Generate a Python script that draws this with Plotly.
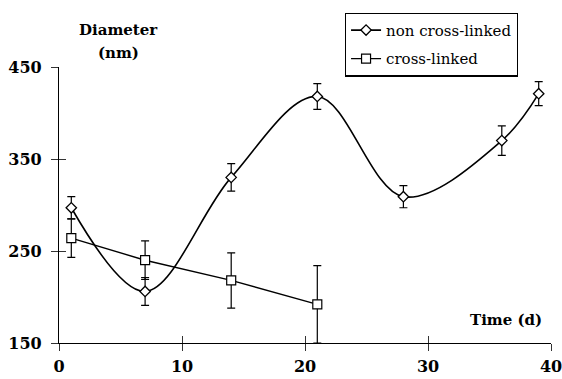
import plotly.graph_objects as go

# Data
time_non = [1, 7, 14, 21, 28, 36, 39]
diam_non = [297, 206, 330, 418, 309, 370, 421]
err_non = [12, 15, 15, 14, 12, 16, 13]

time_cross = [1, 7, 14, 21]
diam_cross = [264, 240, 218, 192]
err_cross = [21, 21, 30, 42]

x_ticks = [0, 10, 20, 30, 40]
y_ticks = [150, 250, 350, 450]

SERIF = "DejaVu Serif"

fig = go.Figure()
fig.add_trace(go.Scatter(
    x=time_non, y=diam_non, name="non cross-linked", mode="lines+markers",
    legendgroup="a",
    line=dict(color="black", width=1.6, shape="spline", smoothing=1.0),
    marker=dict(symbol="diamond", size=8, color="white", line=dict(color="black", width=1.3)),
    error_y=dict(type="data", array=err_non, visible=True, color="black", thickness=1.2, width=4),
))
fig.add_trace(go.Scatter(
    x=time_cross, y=diam_cross, name="cross-linked", mode="lines+markers",
    legendgroup="b",
    line=dict(color="black", width=1.4),
    marker=dict(symbol="square", size=9, color="white", line=dict(color="black", width=1.2)),
    error_y=dict(type="data", array=err_cross, visible=True, color="black", thickness=1.2, width=4),
))
# invisible helper trace for the inner half of the crossing ticks
fig.add_trace(go.Scatter(x=[None], y=[None], xaxis="x2", yaxis="y2", showlegend=False, hoverinfo="skip"))

tick_common = dict(showgrid=False, zeroline=False, tickcolor="#333", tickwidth=1.2,
                   ticklen=7, automargin=False)

fig.update_layout(
    width=562, height=379,
    margin=dict(l=59, r=11, t=67, b=36, autoexpand=False),
    paper_bgcolor="white", plot_bgcolor="white",
    font=dict(family=SERIF, color="black", size=15),
    xaxis=dict(range=[0, 40], tickvals=x_ticks, ticks="outside", showline=True,
               linecolor="black", linewidth=1.2, ticklabeloverflow="allow",
               tickfont=dict(family=SERIF, size=16, weight="bold"), ticklabelstandoff=2,
               **tick_common),
    yaxis=dict(range=[150, 450], tickvals=y_ticks, ticks="outside", showline=True,
               linecolor="black", linewidth=1.2, ticklabeloverflow="allow",
               tickfont=dict(family=SERIF, size=16, weight="bold"), ticklabelstandoff=6,
               **tick_common),
    xaxis2=dict(range=[0, 40], tickvals=x_ticks, ticks="inside", overlaying="x", anchor="y2",
                showticklabels=False, showline=False, **tick_common),
    yaxis2=dict(range=[150, 450], tickvals=y_ticks, ticks="inside", overlaying="y", anchor="x2",
                showticklabels=False, showline=False, **tick_common),
    legend=dict(x=0.581, y=1.197, xanchor="left", yanchor="top",
                bordercolor="black", borderwidth=1.2, bgcolor="white",
                font=dict(family=SERIF, size=15), itemwidth=30,
                entrywidth=150, entrywidthmode="pixels",
                traceorder="grouped", tracegroupgap=6),
    showlegend=True,
    annotations=[
        dict(text="<b>Diameter</b>", x=0.12, y=1.135, xref="paper", yref="paper",
             xanchor="center", yanchor="middle",
             showarrow=False, font=dict(family=SERIF, size=15)),
        dict(text="<b>(nm)</b>", x=0.12, y=1.052, xref="paper", yref="paper",
             xanchor="center", yanchor="middle",
             showarrow=False, font=dict(family=SERIF, size=15)),
        dict(text="<b>Time (d)</b>", x=0.908, y=0.084, xref="paper", yref="paper",
             xanchor="center", yanchor="middle",
             showarrow=False, font=dict(family=SERIF, size=15)),
    ],
)

fig.write_html("out.html")
